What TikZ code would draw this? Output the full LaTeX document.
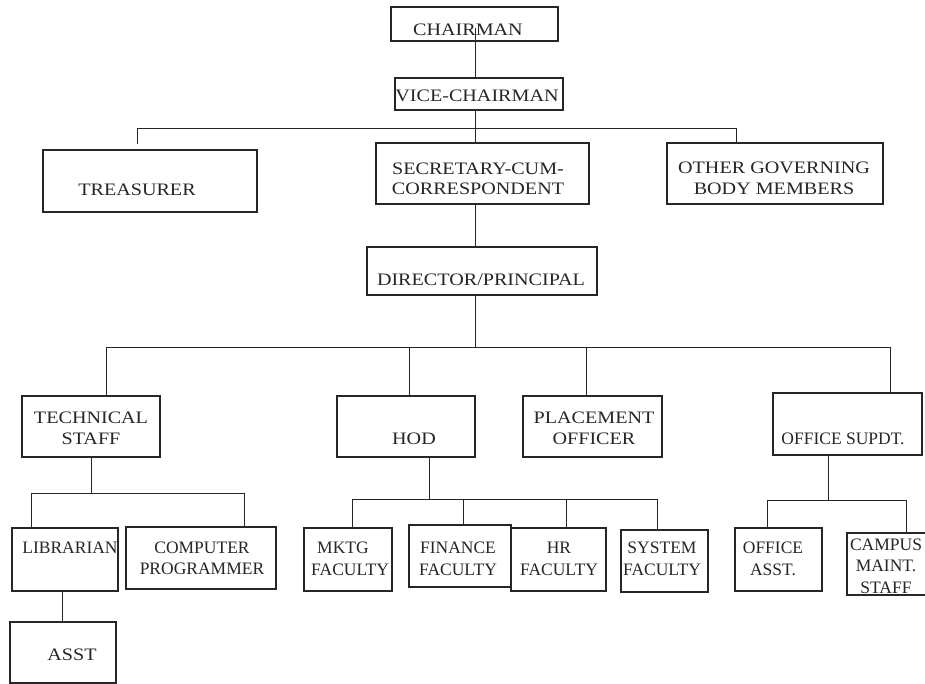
\documentclass[tikz,border=0pt]{standalone}
\usepackage{fontspec}
\setmainfont{Liberation Serif}
\newfontfamily\widefont[FakeStretch=1.15]{Liberation Serif}
\usetikzlibrary{calc}
\tikzset{
  box/.style={draw=black!85, line width=1.1pt, inner sep=0pt, fill=none},
  txt/.style={inner sep=0pt, align=center, text=black!85, font=\fontsize{17.5}{21.5}\selectfont},
  wtxt/.style={inner sep=0pt, align=center, text=black!85, font=\widefont\fontsize{17.5}{20.5}\selectfont},
  conn/.style={draw=black!85, line width=0.9pt}
}
\newcommand\bx[5]{\node[box, minimum width={#3-#2}, minimum height={#5-#4}] (#1) at ({(#2+#3)/2},{(#4+#5)/2}) {};}
\begin{document}
\begin{tikzpicture}[x=1pt,y=-1pt]
\path[use as bounding box, fill=white] (0,0) rectangle (925,684);
% boxes
\bx{chair}{391}{558}{7}{41}
\bx{vice}{395}{563}{78}{110}
\bx{treas}{43}{257}{150}{212}
\bx{sec}{376}{589}{143}{204}
\bx{other}{667}{883}{143}{204}
\bx{dir}{367}{597}{247}{295}
\bx{tech}{22}{160}{396}{457}
\bx{hod}{337}{475}{396}{457}
\bx{place}{523}{662}{396}{457}
\bx{osup}{773}{922}{393}{455}
\bx{lib}{12}{118}{528}{591}
\bx{comp}{126}{276}{527}{589}
\bx{asst}{10}{116}{622}{683}
\bx{mktg}{304}{392}{528}{591}
\bx{fin}{409}{511}{525}{587}
\bx{hr}{511}{606}{528}{591}
\bx{sys}{621}{708}{530}{592}
\bx{oasst}{735}{822}{528}{591}
\bx{camp}{847}{935}{533}{595}
% texts
\node[wtxt] (tchair) at (468,29.5) {CHAIRMAN};
\node[wtxt] (tvice) at (477,96) {VICE-CHAIRMAN};
\node[wtxt] (ttreas) at (137,189.5) {TREASURER};
\node[wtxt] (tsec) at (478,179) {SECRETARY-CUM-\\CORRESPONDENT};
\node[wtxt] (tother) at (774,178.5) {OTHER GOVERNING\\BODY MEMBERS};
\node[wtxt] (tdir) at (481,280) {DIRECTOR/PRINCIPAL};
\node[wtxt] (ttech) at (91,428.5) {TECHNICAL\\STAFF};
\node[wtxt] (thod) at (414,439) {HOD};
\node[wtxt] (tplace) at (594,428.5) {PLACEMENT\\OFFICER};
\node[txt] (tosup) at (843,439) {OFFICE SUPDT.};
\node[txt] (tlib) at (70,548) {LIBRARIAN};
\node[txt] (tcomp) at (202,558.5) {COMPUTER\\PROGRAMMER};
\node[wtxt] (tasst) at (72,655) {ASST};
\node[txt, align=left, anchor=west] (tmktg) at (311,559) {\hspace*{6pt}MKTG\\FACULTY};
\node[txt] (tfin) at (458,559) {FINANCE\\FACULTY};
\node[txt] (thr) at (559,559) {HR\\FACULTY};
\node[txt] (tsys) at (662,559) {SYSTEM\\FACULTY};
\node[txt] (toasst) at (773,559) {OFFICE\\ASST.};
\node[txt] (tcamp) at (886,566) {CAMPUS\\MAINT.\\STAFF};
% junction coordinates
\coordinate (spine) at (475,0);
\coordinate (ctop) at (475,28);
\coordinate (b1l) at (137,128);
\coordinate (b1r) at (736,128);
\coordinate (tend) at (137,144);
\coordinate (b2) at (475,347);
\coordinate (b2a) at (106,347);
\coordinate (b2b) at (409,347);
\coordinate (b2c) at (586,347);
\coordinate (b2d) at (890,347);
\coordinate (t3) at (91,493);
\coordinate (b3a) at (31,493);
\coordinate (b3b) at (244,493);
\coordinate (h4) at (429,499);
\coordinate (b4a) at (352,499);
\coordinate (b4b) at (463,499);
\coordinate (b4c) at (566,499);
\coordinate (b4d) at (657,499);
\coordinate (o5) at (828,500);
\coordinate (b5a) at (767,500);
\coordinate (b5b) at (906,500);
\coordinate (alink) at (62,0);
% connectors
\draw[conn] (ctop) -- (vice.north -| spine);
\draw[conn] (vice.south -| spine) -- (sec.north -| spine);
\draw[conn] (tend) -- (b1l) -- (b1r) -- (other.north -| b1r);
\draw[conn] (sec.south -| spine) -- (dir.north -| spine);
\draw[conn] (dir.south -| spine) -- (b2);
\draw[conn] (tech.north -| b2a) -- (b2a) -- (b2d) -- (osup.north -| b2d);
\draw[conn] (b2b) -- (hod.north -| b2b);
\draw[conn] (b2c) -- (place.north -| b2c);
\draw[conn] (tech.south -| t3) -- (t3);
\draw[conn] (lib.north -| b3a) -- (b3a) -- (b3b) -- (comp.north -| b3b);
\draw[conn] (lib.south -| alink) -- (asst.north -| alink);
\draw[conn] (hod.south -| h4) -- (h4);
\draw[conn] (mktg.north -| b4a) -- (b4a) -- (b4d) -- (sys.north -| b4d);
\draw[conn] (b4b) -- (fin.north -| b4b);
\draw[conn] (b4c) -- (hr.north -| b4c);
\draw[conn] (osup.south -| o5) -- (o5);
\draw[conn] (oasst.north -| b5a) -- (b5a) -- (b5b) -- (camp.north -| b5b);
\end{tikzpicture}
\end{document}
